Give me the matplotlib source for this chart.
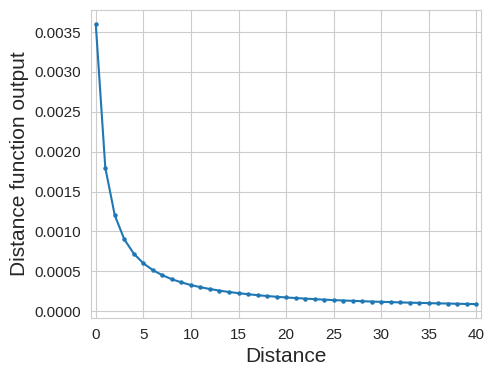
import matplotlib
matplotlib.use("Agg")
import matplotlib.pyplot as plt
from matplotlib.ticker import MultipleLocator
import seaborn as sns

sns.set_style("whitegrid")
plt.rcParams["font.family"] = ["Liberation Sans", "DejaVu Sans"]

distance = list(range(41))
output = [
    0.003600, 0.001800, 0.001200, 0.000900, 0.000720, 0.000600, 0.000514,
    0.000450, 0.000400, 0.000360, 0.000327, 0.000300, 0.000277, 0.000257,
    0.000240, 0.000225, 0.000212, 0.000200, 0.000189, 0.000180, 0.000171,
    0.000164, 0.000157, 0.000150, 0.000144, 0.000138, 0.000133, 0.000129,
    0.000124, 0.000120, 0.000116, 0.000113, 0.000109, 0.000106, 0.000103,
    0.000100, 0.000097, 0.000095, 0.000092, 0.000090, 0.000088,
]

fig, ax = plt.subplots(figsize=(4.92, 3.76), dpi=100)
ax.plot(distance, output, marker="o", markersize=2.2, linewidth=1.5, color="#1f77b4")
ax.set_xlim(-0.5, 40.5)
ax.xaxis.set_major_locator(MultipleLocator(5))
ax.set_xlabel("Distance", fontsize=15)
ax.set_ylabel("Distance function output", fontsize=15)
ax.tick_params(labelsize=11)
for s in ax.spines.values():
    s.set_color("#cccccc")

fig.subplots_adjust(left=0.185, right=0.978, top=0.973, bottom=0.154)
fig.savefig("out.png", dpi=100)
